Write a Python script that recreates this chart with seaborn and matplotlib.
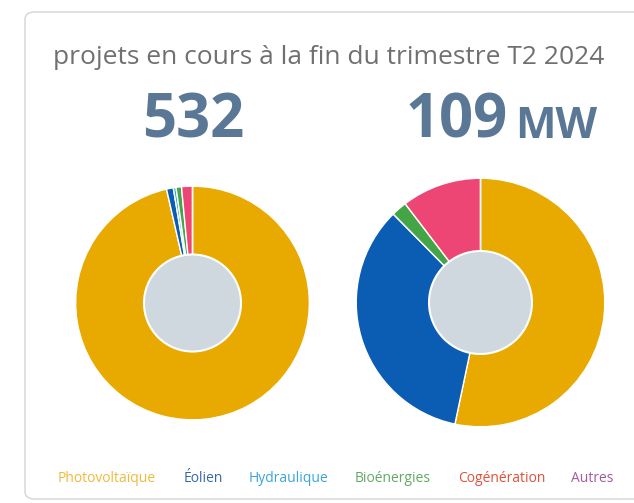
import matplotlib
matplotlib.use("Agg")
import matplotlib.pyplot as plt
import seaborn as sns
from matplotlib.patches import FancyBboxPatch, Circle

sns.set_theme(style="white")
plt.rcParams["font.family"] = ["Open Sans", "DejaVu Sans"]

# data
categories = ["Photovoltaïque", "Éolien", "Hydraulique", "Bioénergies", "Cogénération", "Autres"]
projets = [513, 5, 2, 4, 8, 0]          # nombre de projets (total 532)
puissance = [58.1, 37.4, 0.0, 2.2, 11.3, 0.0]  # MW (total 109)
total_projets = "532"
total_mw = "109"
title = "projets en cours à la fin du trimestre T2 2024"

slice_colors = ["#e8a900", "#0b5db3", "#3aa4dc", "#43a546", "#ee4674", "#a35b9b"]
legend_colors = ["#f0b93a", "#3668a8", "#3aa4dc", "#62a864", "#e2503c", "#a35b9b"]
number_color = "#5a7896"

W, H = 634, 503
fig = plt.figure(figsize=(W / 100, H / 100), dpi=100)
fig.patch.set_facecolor("white")

# card (drawn below the axes)
card = FancyBboxPatch((25 / W, 4 / H), 640 / W, 487 / H,
                      boxstyle="round,pad=0,rounding_size=0.015",
                      transform=fig.transFigure, facecolor="white",
                      edgecolor="#d4d4d4", linewidth=1.0, zorder=-1)
fig.patches.append(card)

fig.text(329 / W, 1 - 58 / H, title, ha="center", va="center",
         fontsize=19, color="#707070")
fig.text(193 / W, 1 - 122 / H, total_projets, ha="center", va="center",
         fontsize=43, fontweight="bold", color=number_color)
fig.text(508 / W, 1 - 122 / H, total_mw, ha="right", va="center",
         fontsize=43, fontweight="bold", color=number_color)
fig.text(515 / W, 1 - 127 / H, "MW", ha="left", va="center",
         fontsize=31, fontweight="bold", color=number_color)


def donut(cx, cy, r, r_in, values):
    ax = fig.add_axes([(cx - r) / W, (H - cy - r) / H, 2 * r / W, 2 * r / H])
    ax.pie(values, colors=slice_colors, startangle=90, counterclock=False,
           radius=1, wedgeprops=dict(width=1 - r_in / r + 0.02,
                                     edgecolor="white", linewidth=1.0))
    ax.add_patch(Circle((0, 0), r_in / r, facecolor="#cfd8df",
                        edgecolor="white", linewidth=1.5, zorder=5))
    ax.set_xlim(-1.01, 1.01)
    ax.set_ylim(-1.01, 1.01)
    ax.axis("off")
    return ax


donut(192.5, 303, 118, 49, projets)
donut(480.5, 302.5, 125.5, 52, puissance)

# legend
legend_x = [107, 203, 288, 393, 502, 592]
for name, col, x in zip(categories, legend_colors, legend_x):
    fig.text(x / W, 1 - 478 / H, name, ha="center", va="center",
             fontsize=10, color=col)

plt.savefig("out.png", dpi=100, facecolor="white")
